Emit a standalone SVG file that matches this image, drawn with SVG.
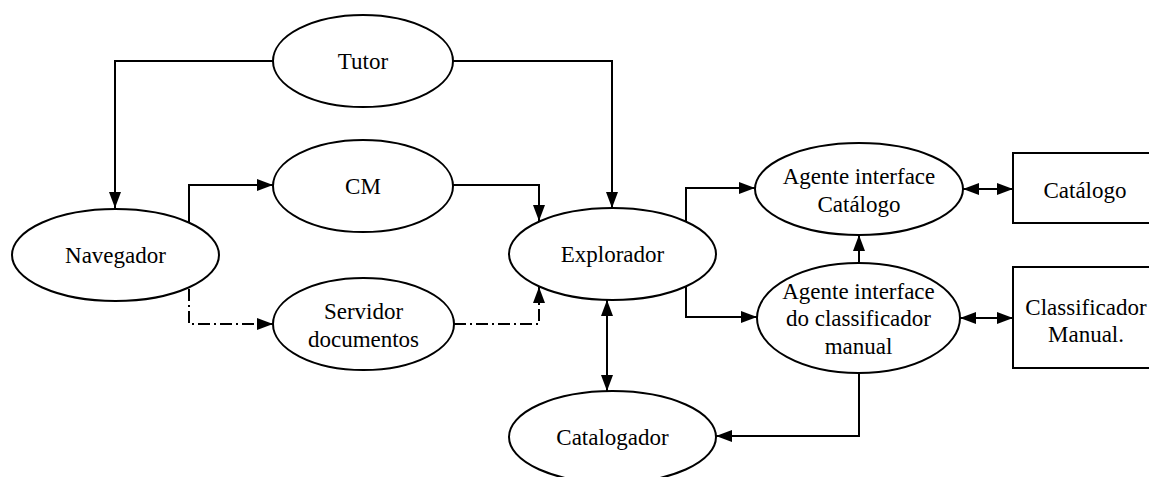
<svg xmlns="http://www.w3.org/2000/svg" width="1149" height="477" viewBox="0 0 1149 477">
  <style>
    .node { fill: #ffffff; stroke: #000000; stroke-width: 2; }
    .label { font-family: "Liberation Serif", "Times New Roman", serif; font-size: 23px; fill: #000000; text-anchor: middle; }
    .edge { fill: none; stroke: #000000; stroke-width: 2; }
    .dashdot { stroke-dasharray: 12 4 2 4; }
    .arrow { marker-end: url(#head); }
    .both { marker-start: url(#head); marker-end: url(#head); }
  </style>
  <defs>
    <marker id="head" markerUnits="userSpaceOnUse" markerWidth="17" markerHeight="13" refX="16" refY="6" orient="auto-start-reverse">
      <path d="M0,0 L16,6 L0,12 z" fill="#000000"/>
    </marker>
  </defs>
  <rect width="1149" height="477" fill="#ffffff"/>

  <!-- connectors -->
  <g id="connectors">
    <path class="edge arrow" d="M273,61 H115 V208"/>
    <path class="edge arrow" d="M453,61 H612 V208"/>
    <path class="edge arrow" d="M189,222 V185 H273"/>
    <path class="edge arrow" d="M453,185 H539 V221"/>
    <path class="edge dashdot arrow" d="M189,289 V324 H273"/>
    <path class="edge dashdot arrow" d="M454,324 H539 V287"/>
    <path class="edge arrow" d="M686,221 V188 H755"/>
    <path class="edge arrow" d="M686,287 V317 H757"/>
    <path class="edge both" d="M607,300 V391"/>
    <path class="edge arrow" d="M859,263 V235"/>
    <path class="edge both" d="M963,189 H1013"/>
    <path class="edge both" d="M960,318 H1013"/>
    <path class="edge arrow" d="M859,372 V436 H716"/>
  </g>

  <!-- nodes -->
  <g id="tutor">
    <ellipse class="node" cx="363" cy="61" rx="90" ry="46"/>
    <text class="label" x="363" y="69">Tutor</text>
  </g>
  <g id="cm">
    <ellipse class="node" cx="363" cy="186" rx="90" ry="46"/>
    <text class="label" x="363" y="194">CM</text>
  </g>
  <g id="navegador">
    <ellipse class="node" cx="115.5" cy="255" rx="103.5" ry="46"/>
    <text class="label" x="115.5" y="263">Navegador</text>
  </g>
  <g id="servidor">
    <ellipse class="node" cx="363.5" cy="324" rx="90.5" ry="46"/>
    <text class="label" x="363.5" y="319">Servidor</text>
    <text class="label" x="363.5" y="347">documentos</text>
  </g>
  <g id="explorador">
    <ellipse class="node" cx="612.5" cy="254" rx="103.5" ry="46"/>
    <text class="label" x="612.5" y="262">Explorador</text>
  </g>
  <g id="catalogador">
    <ellipse class="node" cx="612.5" cy="437" rx="103.5" ry="46"/>
    <text class="label" x="612.5" y="445">Catalogador</text>
  </g>
  <g id="agente-catalogo">
    <ellipse class="node" cx="859" cy="189" rx="104" ry="46"/>
    <text class="label" x="859" y="184">Agente interface</text>
    <text class="label" x="859" y="212">Catálogo</text>
  </g>
  <g id="agente-classificador">
    <ellipse class="node" cx="858.5" cy="318" rx="101.5" ry="55"/>
    <text class="label" x="858.5" y="299">Agente interface</text>
    <text class="label" x="858.5" y="326">do classificador</text>
    <text class="label" x="858.5" y="354">manual</text>
  </g>
  <g id="catalogo">
    <rect class="node" x="1013" y="153" width="150" height="70"/>
    <text class="label" x="1085" y="198">Catálogo</text>
  </g>
  <g id="classificador-manual">
    <rect class="node" x="1013" y="267" width="150" height="101"/>
    <text class="label" x="1086" y="315">Classificador</text>
    <text class="label" x="1086" y="342">Manual.</text>
  </g>
</svg>
